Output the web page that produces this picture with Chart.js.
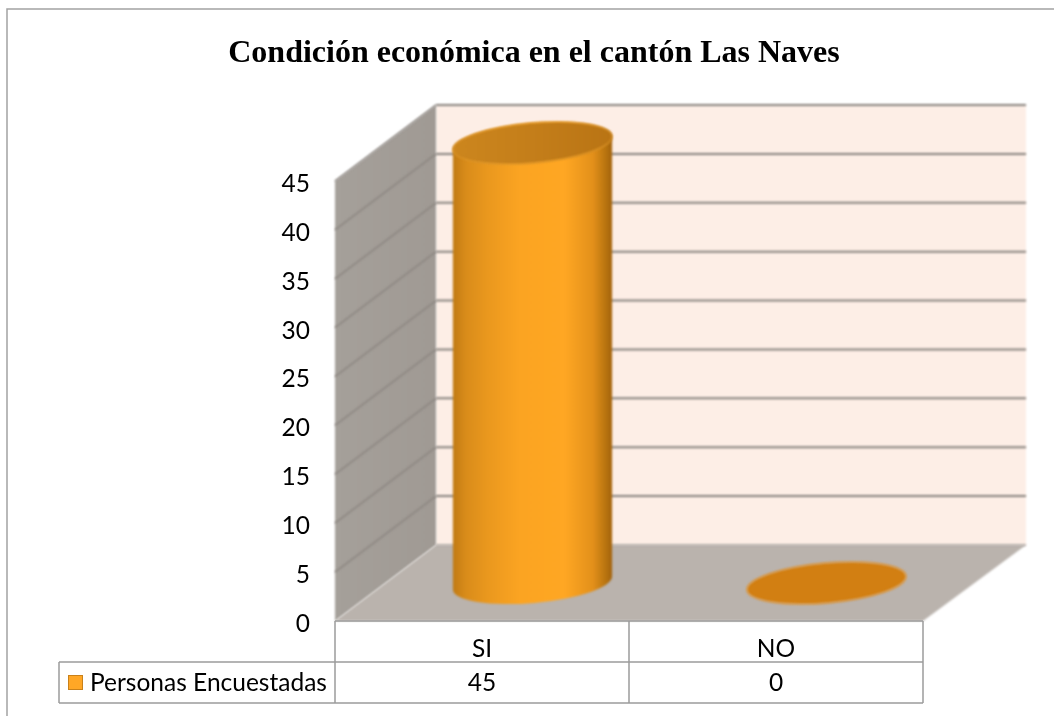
<!DOCTYPE html>
<html>
<head>
<meta charset="utf-8">
<title>Condición económica en el cantón Las Naves</title>
<script src="https://cdn.jsdelivr.net/npm/chart.js@4"></script>
<style>
	html, body { margin:0; padding:0; background:#fff; }
	canvas { display:block; }
</style>
</head>
<body>
<canvas id="chart" width="1054" height="716"></canvas>
<script>
const titleText = 'Condición económica en el cantón Las Naves'
const seriesName = 'Personas Encuestadas'
const categories = ['SI', 'NO']
const values = [45, 0]
const yMax = 45
const yStep = 5

const tableFont = '24.5px Lato'
const lineGray = '#9c9c9c'

// how far the back wall sits from the front plane
const depthX = 101
const depthY = -76

function drawWalls(chart){
	const ctx = chart.ctx
	const {left, right} = chart.chartArea
	const y = chart.scales.y
	const top = y.getPixelForValue(yMax)
	const bottom = y.getPixelForValue(0)
	ctx.save()
	ctx.filter = 'blur(0.8px)'
	// back wall
	ctx.fillStyle = '#fdeee6'
	ctx.fillRect(left+depthX, top+depthY, right-left+2, bottom-top)
	// side wall
	const side = ctx.createLinearGradient(left, 0, left+depthX, 0)
	side.addColorStop(0, '#a5a09a')
	side.addColorStop(1, '#a09a94')
	ctx.fillStyle = side
	ctx.beginPath()
	ctx.moveTo(left, top)
	ctx.lineTo(left+depthX, top+depthY)
	ctx.lineTo(left+depthX, bottom+depthY)
	ctx.lineTo(left, bottom)
	ctx.closePath()
	ctx.fill()
	// floor
	ctx.fillStyle = '#bab3ad'
	ctx.beginPath()
	ctx.moveTo(left, bottom)
	ctx.lineTo(left+depthX, bottom+depthY)
	ctx.lineTo(right+depthX+2, bottom+depthY)
	ctx.lineTo(right, bottom)
	ctx.closePath()
	ctx.fill()
	// gridlines, bent along the side wall
	y.ticks.forEach(t => {
		const p = y.getPixelForValue(t.value)
		if(t.value===0) return
		ctx.strokeStyle = '#8c8681'
		ctx.lineWidth = 1.5
		ctx.beginPath()
		ctx.moveTo(left, p)
		ctx.lineTo(left+depthX, p+depthY)
		ctx.stroke()
		ctx.strokeStyle = '#87827e'
		ctx.lineWidth = 2
		ctx.beginPath()
		ctx.moveTo(left+depthX, p+depthY)
		ctx.lineTo(right+depthX+2, p+depthY)
		ctx.stroke()
	})
	ctx.strokeStyle = '#b0a9a3'
	ctx.lineWidth = 1.5
	ctx.beginPath()
	ctx.moveTo(left+depthX, bottom+depthY)
	ctx.lineTo(right+depthX+2, bottom+depthY)
	ctx.stroke()
	ctx.restore()
}

function drawCylinders(chart){
	const ctx = chart.ctx
	const tilt = -5*Math.PI/180
	const ry = 20
	chart.getDatasetMeta(0).data.forEach(bar => {
		const cx = bar.x + depthX/2
		const topY = bar.y + depthY/2
		const baseY = bar.base + depthY/2
		const rx = bar.width/2 + 0.5
		const edgeX = rx*Math.cos(tilt)
		const edgeY = rx*Math.sin(tilt)
		ctx.save()
		ctx.filter = 'blur(0.9px)'
		if(baseY-topY > 1){
			const body = ctx.createLinearGradient(cx-edgeX, 0, cx+edgeX, 0)
			body.addColorStop(0, '#c07a14')
			body.addColorStop(0.08, '#d98c1a')
			body.addColorStop(0.22, '#ea981e')
			body.addColorStop(0.42, '#fba422')
			body.addColorStop(0.7, '#ffa723')
			body.addColorStop(0.88, '#e3901a')
			body.addColorStop(0.96, '#b8740f')
			body.addColorStop(1, '#a2620c')
			ctx.fillStyle = body
			ctx.beginPath()
			ctx.moveTo(cx-edgeX, topY-edgeY)
			ctx.lineTo(cx-edgeX, baseY-edgeY)
			ctx.ellipse(cx, baseY, rx, ry, tilt, Math.PI, 0, true)
			ctx.lineTo(cx+edgeX, topY+edgeY)
			ctx.ellipse(cx, topY, rx, ry, tilt, 0, Math.PI, true)
			ctx.closePath()
			ctx.fill()
			const cap = ctx.createLinearGradient(cx-edgeX, 0, cx+edgeX, 0)
			cap.addColorStop(0, '#cc861e')
			cap.addColorStop(0.5, '#c47e1a')
			cap.addColorStop(1, '#b97414')
			ctx.fillStyle = cap
			ctx.strokeStyle = 'rgba(232,160,50,0.6)'
		}else{
			ctx.fillStyle = '#d27f12'
			ctx.strokeStyle = 'rgba(224,160,80,0.8)'
		}
		ctx.lineWidth = 1.5
		ctx.beginPath()
		ctx.ellipse(cx, topY, rx, ry, tilt, 0, Math.PI*2)
		ctx.fill()
		ctx.stroke()
		ctx.restore()
	})
}

function drawTable(chart){
	const ctx = chart.ctx
	const x = chart.scales.x
	const {left, right, bottom} = chart.chartArea
	const rowY = bottom + 41
	const endY = bottom + 82
	const legendLeft = 59
	const mid = (x.getPixelForValue(0)+x.getPixelForValue(1))/2
	ctx.save()
	ctx.strokeStyle = lineGray
	ctx.lineWidth = 1.5
	ctx.beginPath()
	ctx.moveTo(left, bottom); ctx.lineTo(right, bottom)
	ctx.moveTo(legendLeft, rowY); ctx.lineTo(right, rowY)
	ctx.moveTo(legendLeft, endY); ctx.lineTo(right, endY)
	ctx.moveTo(legendLeft, rowY); ctx.lineTo(legendLeft, endY)
	ctx.moveTo(left, bottom); ctx.lineTo(left, endY)
	ctx.moveTo(mid, bottom); ctx.lineTo(mid, endY)
	ctx.moveTo(right, bottom); ctx.lineTo(right, endY)
	ctx.stroke()
	// series key
	ctx.fillStyle = '#ffa726'
	ctx.fillRect(68.5, rowY+13.5, 14, 14)
	ctx.strokeStyle = '#c9811a'
	ctx.lineWidth = 1
	ctx.strokeRect(68.5, rowY+13.5, 14, 14)
	ctx.fillStyle = '#000'
	ctx.font = tableFont
	ctx.textBaseline = 'middle'
	ctx.textAlign = 'left'
	ctx.fillText(chart.data.datasets[0].label, 90, rowY+21)
	// value row
	ctx.textAlign = 'center'
	values.forEach((v, i) => {
		ctx.fillText(String(v), x.getPixelForValue(i), rowY+21)
	})
	// outer frame, cut off by the image on the right and at the bottom
	ctx.strokeStyle = '#a2a2a2'
	ctx.lineWidth = 1.5
	ctx.beginPath()
	ctx.moveTo(7, 716); ctx.lineTo(7, 9); ctx.lineTo(1054, 9)
	ctx.stroke()
	ctx.restore()
}

const cylinderPlugin = {
	id:'cylinders',
	beforeDatasetsDraw(chart){
		drawWalls(chart)
	},
	beforeDatasetDraw(chart){
		drawCylinders(chart)
		return false
	},
	afterDraw(chart){
		drawTable(chart)
	}
}

new Chart(document.getElementById('chart'), {
	type:'bar',
	plugins:[cylinderPlugin],
	data:{
		labels:categories,
		datasets:[{
			label:seriesName,
			data:values,
			backgroundColor:'#ffa726',
			categoryPercentage:1,
			barPercentage:0.54
		}]
	},
	options:{
		responsive:false,
		animation:false,
		devicePixelRatio:1,
		layout:{padding:{left:145, right:131, top:0, bottom:0}},
		plugins:{
			legend:{display:false},
			tooltip:{enabled:false},
			title:{
				display:true,
				text:titleText,
				color:'#000',
				font:{family:'"Liberation Serif"', size:32, weight:'bold'},
				padding:{top:34.8, bottom:107.8}
			}
		},
		scales:{
			x:{
				grid:{display:false},
				border:{display:false},
				afterFit(scale){ scale.height = 95 },
				ticks:{
					color:'#000',
					font:{family:'Lato', size:24.5},
					padding:5,
					maxRotation:0
				}
			},
			y:{
				min:0,
				max:yMax,
				grid:{display:false, drawTicks:false},
				border:{display:false},
				afterFit(scale){ scale.width = 190 },
				ticks:{
					stepSize:yStep,
					color:'#000',
					font:{family:'Lato', size:24.5},
					padding:25,
					labelOffset:3
				}
			}
		}
	}
})
</script>
</body>
</html>
